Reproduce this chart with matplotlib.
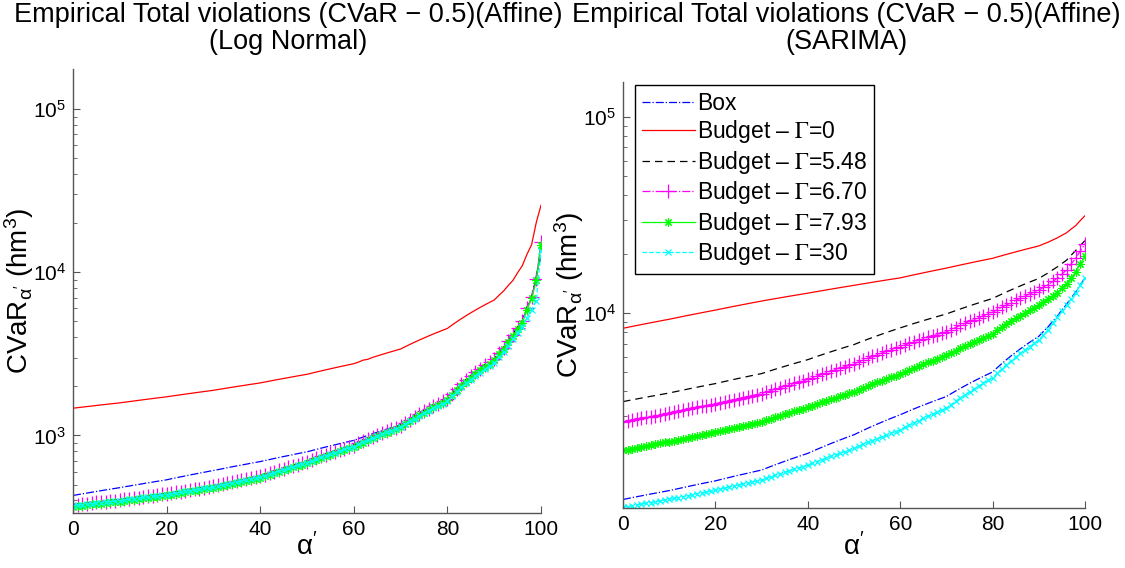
import matplotlib
matplotlib.use("Agg")
import matplotlib.pyplot as plt
from matplotlib.ticker import LogLocator, NullFormatter, FixedLocator
from matplotlib.font_manager import FontProperties

plt.rcParams['font.family'] = ['Liberation Sans', 'DejaVu Sans']
plt.rcParams['mathtext.fontset'] = 'custom'
plt.rcParams['mathtext.rm'] = 'Liberation Sans'
plt.rcParams['mathtext.it'] = 'Liberation Sans:italic'
plt.rcParams['mathtext.bf'] = 'Liberation Sans:bold'

# alpha' grid (percent)
alpha = list(range(101))

labels = ['Box', r'Budget – $\Gamma$=0', r'Budget – $\Gamma$=5.48',
          r'Budget – $\Gamma$=6.70', r'Budget – $\Gamma$=7.93', r'Budget – $\Gamma$=30']

# ---- Log Normal (left) ----
ln_box = [429, 434, 439, 444, 449, 454, 459, 464, 469, 474,
          479, 485, 490, 496, 501, 507, 513, 518, 524, 529,
          535, 543, 550, 558, 565, 573, 580, 588, 595, 603,
          610, 618, 626, 635, 643, 651, 659, 667, 676, 684,
          692, 702, 712, 723, 733, 743, 753, 763, 774, 784,
          794, 808, 822, 836, 850, 864, 877, 891, 905, 919,
          933, 956, 979, 1001, 1024, 1047, 1070, 1093, 1115, 1138,
          1161, 1211, 1261, 1311, 1361, 1411, 1460, 1510, 1560, 1610,
          1660, 1782, 1905, 2027, 2150, 2272, 2394, 2517, 2639, 2762,
          2884, 3136, 3388, 3731, 4074, 4543, 5012, 5965, 6918, 9500, 12589]
ln_g0 = [1469, 1481, 1492, 1504, 1515, 1527, 1539, 1550, 1562, 1573,
         1585, 1599, 1613, 1627, 1641, 1656, 1670, 1684, 1698, 1712,
         1726, 1743, 1759, 1776, 1792, 1809, 1826, 1842, 1859, 1875,
         1892, 1913, 1933, 1954, 1975, 1996, 2016, 2037, 2058, 2078,
         2099, 2126, 2153, 2181, 2208, 2235, 2262, 2289, 2317, 2344,
         2371, 2409, 2448, 2486, 2524, 2563, 2601, 2639, 2677, 2716,
         2754, 2817, 2895, 2930, 3008, 3071, 3134, 3198, 3261, 3325,
         3388, 3502, 3616, 3730, 3844, 3959, 4073, 4187, 4301, 4415,
         4529, 4752, 4975, 5199, 5422, 5645, 5868, 6091, 6315, 6538,
         6761, 7218, 7674, 8294, 8913, 9939, 10965, 12878, 14791, 20248, 25704]
ln_g548 = [378, 381, 383, 386, 389, 392, 394, 398, 401, 403,
           406, 410, 413, 417, 420, 424, 427, 432, 435, 439,
           442, 447, 452, 457, 462, 468, 473, 478, 483, 488,
           493, 501, 508, 515, 522, 530, 538, 545, 552, 559,
           567, 580, 592, 606, 618, 631, 645, 657, 671, 683,
           696, 715, 732, 751, 768, 787, 804, 823, 840, 859,
           877, 904, 932, 960, 988, 1017, 1044, 1072, 1100, 1128,
           1156, 1209, 1263, 1316, 1370, 1423, 1476, 1530, 1583, 1637,
           1690, 1818, 1947, 2074, 2202, 2331, 2459, 2586, 2714, 2843,
           2971, 3230, 3490, 3843, 4196, 4621, 5045, 6085, 7125, 9180, 14500]
ln_g670 = [374, 377, 379, 383, 386, 389, 391, 394, 397, 399,
           402, 406, 409, 413, 416, 420, 423, 427, 430, 435,
           438, 443, 448, 453, 458, 463, 468, 473, 478, 483,
           489, 496, 503, 510, 517, 525, 532, 540, 547, 554,
           561, 574, 587, 600, 612, 625, 639, 651, 664, 676,
           690, 708, 725, 744, 761, 779, 797, 815, 832, 851,
           868, 896, 923, 951, 978, 1007, 1034, 1062, 1089, 1117,
           1144, 1197, 1251, 1304, 1357, 1410, 1462, 1515, 1568, 1621,
           1674, 1800, 1928, 2054, 2181, 2308, 2435, 2561, 2688, 2815,
           2942, 3199, 3456, 3806, 4155, 4576, 4996, 6026, 7056, 9091, 15300]
ln_g793 = [367, 370, 372, 375, 378, 381, 383, 386, 389, 391,
           394, 398, 401, 405, 408, 412, 415, 419, 422, 426,
           429, 434, 439, 444, 449, 454, 459, 464, 469, 474,
           479, 486, 493, 500, 507, 515, 522, 529, 536, 543,
           550, 563, 575, 588, 600, 613, 626, 638, 651, 663,
           676, 694, 711, 729, 746, 764, 781, 799, 816, 834,
           851, 878, 905, 932, 959, 987, 1014, 1041, 1068, 1095,
           1122, 1174, 1226, 1278, 1330, 1382, 1433, 1485, 1537, 1589,
           1641, 1765, 1890, 2014, 2138, 2263, 2387, 2511, 2635, 2760,
           2884, 3136, 3388, 3731, 4074, 4486, 4898, 5908, 6918, 8913, 14791]
ln_g30 = [372, 375, 377, 380, 383, 386, 388, 391, 394, 396,
          399, 403, 406, 410, 413, 417, 420, 424, 427, 431,
          434, 439, 444, 449, 454, 459, 464, 469, 474, 479,
          484, 491, 498, 505, 512, 520, 527, 534, 541, 548,
          555, 568, 580, 593, 605, 618, 631, 643, 656, 668,
          681, 699, 716, 734, 751, 769, 786, 804, 821, 839,
          855, 882, 909, 936, 963, 991, 1018, 1045, 1072, 1099,
          1120, 1170, 1220, 1270, 1320, 1370, 1420, 1470, 1520, 1570,
          1620, 1740, 1855, 1970, 2085, 2200, 2315, 2430, 2545, 2660,
          2780, 3020, 3250, 3550, 3880, 4250, 4650, 5250, 5900, 6700, 13500]

# ---- SARIMA (right) ----
sa_box = [1122, 1134, 1147, 1159, 1171, 1184, 1196, 1208, 1220, 1233,
          1245, 1260, 1275, 1290, 1305, 1321, 1336, 1351, 1366, 1381,
          1396, 1415, 1434, 1453, 1472, 1491, 1509, 1528, 1547, 1566,
          1585, 1619, 1654, 1688, 1722, 1757, 1791, 1825, 1859, 1894,
          1928, 1975, 2022, 2069, 2116, 2164, 2211, 2258, 2305, 2352,
          2399, 2463, 2526, 2590, 2653, 2717, 2780, 2844, 2907, 2971,
          3034, 3106, 3179, 3251, 3324, 3396, 3468, 3541, 3613, 3686,
          3758, 3883, 4009, 4134, 4260, 4385, 4510, 4636, 4761, 4887,
          5012, 5273, 5534, 5795, 6056, 6317, 6577, 6838, 7099, 7360,
          7621, 8066, 8511, 9086, 9661, 10377, 11092, 11958, 12823, 13980, 15136]
sa_g0 = [8375, 8469, 8562, 8656, 8749, 8843, 8937, 9030, 9124, 9217,
         9311, 9417, 9523, 9629, 9735, 9841, 9946, 10052, 10158, 10264,
         10370, 10486, 10602, 10718, 10834, 10950, 11066, 11182, 11298, 11414,
         11530, 11642, 11754, 11866, 11978, 12090, 12202, 12314, 12426, 12538,
         12650, 12772, 12894, 13016, 13138, 13260, 13382, 13504, 13626, 13748,
         13870, 13997, 14124, 14251, 14378, 14505, 14632, 14759, 14886, 15013,
         15140, 15324, 15508, 15692, 15876, 16060, 16244, 16428, 16612, 16796,
         16980, 17187, 17394, 17601, 17808, 18015, 18222, 18429, 18636, 18843,
         19050, 19348, 19646, 19944, 20242, 20540, 20838, 21136, 21434, 21732,
         22030, 22520, 23010, 23610, 24210, 24955, 25700, 26845, 27990, 29700, 31410]
sa_g548 = [3540, 3578, 3615, 3653, 3691, 3729, 3766, 3804, 3842, 3879,
           3917, 3963, 4009, 4054, 4100, 4146, 4192, 4238, 4283, 4329,
           4375, 4430, 4484, 4539, 4593, 4648, 4702, 4757, 4811, 4866,
           4920, 5007, 5095, 5182, 5270, 5357, 5444, 5532, 5619, 5707,
           5794, 5906, 6019, 6131, 6244, 6356, 6468, 6581, 6693, 6806,
           6918, 7068, 7217, 7367, 7516, 7666, 7816, 7965, 8115, 8264,
           8414, 8563, 8713, 8862, 9012, 9161, 9310, 9460, 9609, 9759,
           9908, 10106, 10303, 10501, 10699, 10897, 11094, 11292, 11490, 11687,
           11885, 12200, 12514, 12829, 13143, 13458, 13773, 14087, 14402, 14716,
           15031, 15532, 16032, 16626, 17219, 17920, 18621, 19757, 20893, 22168, 23442]
sa_g670 = [2793, 2823, 2852, 2882, 2912, 2942, 2971, 3001, 3031, 3060,
           3090, 3126, 3162, 3198, 3234, 3271, 3307, 3343, 3379, 3415,
           3451, 3495, 3539, 3583, 3627, 3671, 3714, 3758, 3802, 3846,
           3890, 3960, 4030, 4101, 4171, 4241, 4311, 4381, 4452, 4522,
           4592, 4685, 4778, 4871, 4964, 5057, 5149, 5242, 5335, 5428,
           5521, 5645, 5769, 5893, 6017, 6141, 6265, 6389, 6513, 6637,
           6761, 6888, 7016, 7143, 7271, 7398, 7525, 7653, 7780, 7908,
           8035, 8243, 8451, 8659, 8867, 9076, 9284, 9492, 9700, 9908,
           10116, 10417, 10717, 11018, 11318, 11619, 11920, 12220, 12521, 12821,
           13122, 13543, 13964, 14515, 15066, 15831, 16596, 17826, 19055, 20825, 22594]
sa_g793 = [1995, 2017, 2039, 2060, 2082, 2104, 2126, 2148, 2169, 2191,
           2213, 2239, 2266, 2292, 2319, 2345, 2371, 2398, 2424, 2451,
           2477, 2509, 2540, 2572, 2603, 2635, 2667, 2698, 2730, 2761,
           2793, 2845, 2897, 2948, 3000, 3052, 3104, 3156, 3207, 3259,
           3311, 3378, 3445, 3512, 3579, 3646, 3713, 3780, 3847, 3914,
           3981, 4073, 4164, 4256, 4348, 4440, 4531, 4623, 4715, 4806,
           4898, 5018, 5137, 5257, 5377, 5497, 5616, 5736, 5856, 5975,
           6095, 6271, 6446, 6622, 6798, 6974, 7149, 7325, 7501, 7676,
           7852, 8163, 8474, 8785, 9096, 9408, 9719, 10030, 10341, 10652,
           10965, 11357, 11749, 12242, 12735, 13430, 14125, 15172, 16218, 17858, 19498]
sa_g30 = [1023, 1033, 1043, 1053, 1063, 1073, 1082, 1092, 1102, 1112,
          1122, 1135, 1148, 1160, 1173, 1186, 1199, 1212, 1224, 1237,
          1250, 1266, 1282, 1298, 1314, 1330, 1345, 1361, 1377, 1393,
          1409, 1436, 1463, 1490, 1517, 1544, 1571, 1598, 1625, 1652,
          1679, 1715, 1752, 1788, 1824, 1861, 1897, 1933, 1969, 2006,
          2042, 2092, 2142, 2192, 2242, 2292, 2341, 2391, 2441, 2491,
          2541, 2614, 2687, 2761, 2834, 2907, 2980, 3053, 3127, 3200,
          3273, 3413, 3554, 3694, 3835, 3975, 4115, 4256, 4396, 4537,
          4677, 4937, 5197, 5457, 5717, 5978, 6238, 6498, 6758, 7018,
          7278, 7750, 8222, 8886, 9550, 10258, 10965, 11850, 12735, 13936, 15136]

left_series = [ln_box, ln_g0, ln_g548, ln_g670, ln_g793, ln_g30]
right_series = [sa_box, sa_g0, sa_g548, sa_g670, sa_g793, sa_g30]

styles = [
    dict(color=(0, 0, 1), ls='-.'),
    dict(color=(1, 0, 0), ls='-'),
    dict(color=(0, 0, 0), ls='--', dashes=(6, 4)),
    dict(color=(1, 0, 1), ls='-.', marker='+', ms=10, mew=0.9),
    dict(color=(0, 1, 0), ls='-', marker=(8, 2, 0), ms=6, mew=0.8),
    dict(color=(0, 1, 1), ls='--', marker='x', ms=5, mew=0.9),
]

fig = plt.figure(figsize=(11.25, 5.68), dpi=100)
W, H = 1125, 568
ax1 = fig.add_axes([73 / W, (H - 513) / H, (541 - 73) / W, (513 - 69) / H])
ax2 = fig.add_axes([623 / W, (H - 508) / H, (1085 - 623) / W, (508 - 82) / H])

handles = []
for ax, series, ylim in [(ax1, left_series, (335, 176000)),
                         (ax2, right_series, (1015, 151000))]:
    for vals, st in zip(series, styles):
        ln, = ax.plot(alpha, vals, lw=0.9, **st)
        if ax is ax2:
            handles.append(ln)
    ax.set_yscale('log')
    ax.set_xlim(0, 100)
    ax.set_ylim(*ylim)
    ax.xaxis.set_major_locator(FixedLocator([0, 20, 40, 60, 80, 100]))
    ax.yaxis.set_major_locator(LogLocator(base=10))
    ax.yaxis.set_minor_locator(LogLocator(base=10, subs=range(2, 10)))
    ax.yaxis.set_minor_formatter(NullFormatter())
    for s in ['top', 'right']:
        ax.spines[s].set_visible(False)
    for s in ['left', 'bottom']:
        ax.spines[s].set_color('#555555')
        ax.spines[s].set_linewidth(1.0)
    ax.tick_params(which='both', direction='in', colors='#555555', labelcolor='black',
                   labelsize=15, top=False, right=False)
    ax.tick_params(which='major', length=5, pad=5)
    ax.tick_params(which='minor', length=3)
    ax.set_xlabel(r'$\mathrm{\alpha}^{\prime}$', fontsize=20)
    ax.set_ylabel(r'CVaR$_{\mathrm{\alpha}^{\prime}}$ (hm$^3$)', fontsize=20)

ax1.yaxis.set_label_coords(-(73 - 36) / 468, 0.5)
ax2.yaxis.set_label_coords(-(623 - 586) / 462, 0.5)
ax1.xaxis.set_label_coords(0.5, -(533 - 513) / 444)
ax2.xaxis.set_label_coords(0.5, -(533 - 508) / 426)

fig.text(288 / W, 1 - 2 / H, 'Empirical Total violations (CVaR − 0.5)(Affine)\n(Log Normal)',
         ha='center', va='top', fontsize=19.5, linespacing=1.05)
fig.text(846 / W, 1 - 2 / H, 'Empirical Total violations (CVaR − 0.5)(Affine)\n(SARIMA)',
         ha='center', va='top', fontsize=19.5, linespacing=1.05)

leg = ax2.legend(handles, labels, loc='upper left', bbox_to_anchor=(0.026, 0.993),
                 prop=FontProperties(family='Liberation Sans', size=16.5, math_fontfamily='stix'),
                 frameon=True, fancybox=False, framealpha=1, edgecolor='black',
                 borderpad=0.3, handlelength=2.3, handletextpad=0.1,
                 labelspacing=0.15, borderaxespad=0, numpoints=1)
leg.get_frame().set_linewidth(1.0)

fig.savefig('out.png', dpi=100)
